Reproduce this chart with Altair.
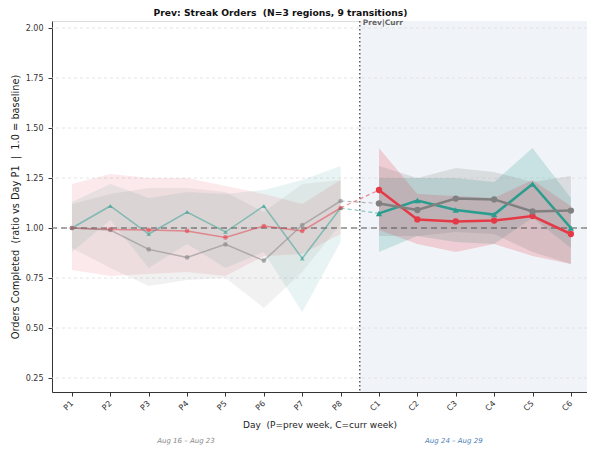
import altair as alt
import pandas as pd

days = ["P1", "P2", "P3", "P4", "P5", "P6", "P7", "P8",
        "C1", "C2", "C3", "C4", "C5", "C6"]
series = ["teal", "red", "gray"]
colors = ["#2a9d8f", "#e63946", "#808080"]
shapes = ["triangle-up", "circle", "circle"]

teal_val = [1.00, 1.11, 0.97, 1.08, 0.98, 1.11, 0.848, 1.10,
            1.073, 1.137, 1.09, 1.067, 1.22, 1.00]
teal_lo = [0.88, 1.04, 0.80, 0.92, 0.80, 0.88, 0.58, 0.93,
           0.88, 0.96, 0.93, 0.92, 1.05, 0.90]
teal_hi = [1.13, 1.22, 1.15, 1.18, 1.17, 1.19, 1.24, 1.31,
           1.25, 1.25, 1.25, 1.23, 1.40, 1.15]

red_val = [1.00, 0.993, 0.99, 0.985, 0.953, 1.01, 0.985, 1.10,
           1.19, 1.043, 1.033, 1.037, 1.06, 0.97]
red_lo = [0.79, 0.76, 0.77, 0.78, 0.76, 0.86, 0.87, 0.97,
          0.99, 0.92, 0.88, 0.92, 0.86, 0.82]
red_hi = [1.22, 1.27, 1.25, 1.25, 1.21, 1.17, 1.12, 1.24,
          1.40, 1.17, 1.16, 1.15, 1.24, 1.11]

gray_val = [1.00, 0.99, 0.893, 0.853, 0.918, 0.837, 1.015, 1.135,
            1.123, 1.09, 1.147, 1.143, 1.083, 1.087]
gray_lo = [0.90, 0.80, 0.71, 0.74, 0.75, 0.60, 0.78, 1.02,
           0.96, 0.96, 0.98, 0.97, 0.88, 0.82]
gray_hi = [1.12, 1.17, 1.20, 1.20, 1.18, 1.08, 1.22, 1.24,
           1.31, 1.25, 1.30, 1.28, 1.23, 1.26]

y_ticks = [0.25, 0.50, 0.75, 1.00, 1.25, 1.50, 1.75, 2.00]
week_labels = ["Aug 16 – Aug 23", "Aug 24 – Aug 29"]
week_centers = [2.97, 9.95]
week_colors = ["#888888", "#4a80b8"]
divider = 7.5
x_min, x_max = -0.52, 13.42
y_min, y_max = 0.18, 2.035

vals = {"teal": (teal_val, teal_lo, teal_hi),
        "red": (red_val, red_lo, red_hi),
        "gray": (gray_val, gray_lo, gray_hi)}

rows = []
for s in series:
    v, lo, hi = vals[s]
    for i, d in enumerate(days):
        rows.append({"series": s, "i": i, "day": d, "v": v[i], "lo": lo[i], "hi": hi[i],
                     "week": "prev" if i < 8 else "curr"})
df = pd.DataFrame(rows)
prev = df[df.week == "prev"]
curr = df[df.week == "curr"]
conn = df[df.i.isin([7, 8])]

W, H = 535, 371
xs = alt.Scale(domain=[x_min, x_max], nice=False, zero=False)
ys = alt.Scale(domain=[y_min, y_max], nice=False, zero=False)
cs = alt.Scale(domain=series, range=colors)
ss = alt.Scale(domain=series, range=shapes)
label_expr = "[" + ",".join(f"'{d}'" for d in days) + "][datum.value]"

X = alt.X("i:Q", scale=xs,
          axis=alt.Axis(values=list(range(len(days))), labelExpr=label_expr,
                        labelAngle=-45, labelAlign="right", labelBaseline="middle",
                        labelFontSize=8, labelColor="#333", tickColor="#333",
                        domainColor="#333", tickSize=4, grid=False,
                        title="Day\u00a0 (P=prev week, C=curr week)",
                        titleFontSize=9, titleFontWeight="normal", titleColor="#222",
                        titlePadding=8, labelPadding=6))
Y = alt.Y("v:Q", scale=ys,
          axis=alt.Axis(values=y_ticks, format=".2f", labelFontSize=8, labelColor="#333",
                        tickColor="#333", domainColor="#333", tickSize=4, grid=False,
                        title="Orders Completed\u00a0 (ratio vs Day P1\u00a0 |\u00a0 1.0 = baseline)",
                        titleFontSize=9.8, titleFontWeight="normal", titleColor="#222",
                        titlePadding=5, labelPadding=5))
C = alt.Color("series:N", scale=cs, legend=None)

shade = alt.Chart(pd.DataFrame({"a": [divider], "b": [x_max], "y0": [y_min], "y1": [y_max]})).mark_rect(
    color="#f0f4f8").encode(x=alt.X("a:Q", scale=xs), x2="b", y=alt.Y("y0:Q", scale=ys), y2="y1")

grid = alt.Chart(pd.DataFrame({"t": y_ticks})).mark_rule(
    color="#dddddd", strokeDash=[3, 3], strokeWidth=0.8).encode(y=alt.Y("t:Q", scale=ys))

band_prev = alt.Chart(prev).mark_area(opacity=0.11).encode(
    x=alt.X("i:Q", scale=xs), y=alt.Y("lo:Q", scale=ys), y2="hi", color=C, detail="series:N")
band_curr = alt.Chart(curr).mark_area(opacity=0.2).encode(
    x=alt.X("i:Q", scale=xs), y=alt.Y("lo:Q", scale=ys), y2="hi", color=C, detail="series:N")

base_rule = alt.Chart(pd.DataFrame({"b": [1.0]})).mark_rule(
    color="#555555", strokeDash=[6, 4], strokeWidth=1).encode(y=alt.Y("b:Q", scale=ys))
div_rule = alt.Chart(pd.DataFrame({"d": [divider]})).mark_rule(
    color="#444444", strokeDash=[1.5, 2.5], strokeWidth=1.3).encode(x=alt.X("d:Q", scale=xs))

line_prev = alt.Chart(prev).mark_line(strokeWidth=1.5, opacity=0.5).encode(
    x=X, y=Y, color=C, detail="series:N")
pt_prev = alt.Chart(prev).mark_point(filled=True, size=22, opacity=0.55).encode(
    x=X, y=Y, color=C, shape=alt.Shape("series:N", scale=ss, legend=None))
line_conn = alt.Chart(conn).mark_line(strokeWidth=1.2, opacity=0.55, strokeDash=[4, 3]).encode(
    x=X, y=Y, color=C, detail="series:N")
line_curr = alt.Chart(curr).mark_line(strokeWidth=2.5).encode(
    x=X, y=Y, color=C, detail="series:N")
pt_curr = alt.Chart(curr).mark_point(filled=True, size=40, opacity=1).encode(
    x=X, y=Y, color=C, shape=alt.Shape("series:N", scale=ss, legend=None))

div_text = alt.Chart(pd.DataFrame({"d": [divider], "t": ["Prev|Curr"]})).mark_text(
    align="left", baseline="top", dx=3, dy=-2, fontSize=7.5, fontWeight="bold", color="#666666",
    font="DejaVu Sans").encode(x=alt.X("d:Q", scale=xs), y=alt.value(0), text="t:N")

week_df = pd.DataFrame({"c": week_centers, "t": week_labels, "col": week_colors})
week_text = alt.Chart(week_df).mark_text(
    align="center", baseline="middle", fontSize=7, fontStyle="italic", font="DejaVu Sans",
    dy=H + 49).encode(x=alt.X("c:Q", scale=xs), y=alt.value(0), text="t:N",
                      color=alt.Color("col:N", scale=None))

chart = alt.layer(shade, grid, band_prev, band_curr, base_rule, div_rule,
                  line_prev, pt_prev, line_conn, line_curr, pt_curr,
                  div_text, week_text).properties(
    width=W, height=H,
    title=alt.TitleParams("Prev: Streak Orders\u00a0 (N=3 regions, 9 transitions)",
                          fontSize=9.2, fontWeight="bold", font="DejaVu Sans",
                          color="#111", offset=1, dx=-39),
    autosize=alt.AutoSizeParams(type="none"),
    padding={"left": 44, "top": 13, "right": 0, "bottom": 55},
).configure_view(stroke=None).configure(font="DejaVu Sans").configure_axis(
    labelFont="DejaVu Sans", titleFont="DejaVu Sans")

chart.save("out.html", embed_options={"renderer": "svg", "actions": False})
